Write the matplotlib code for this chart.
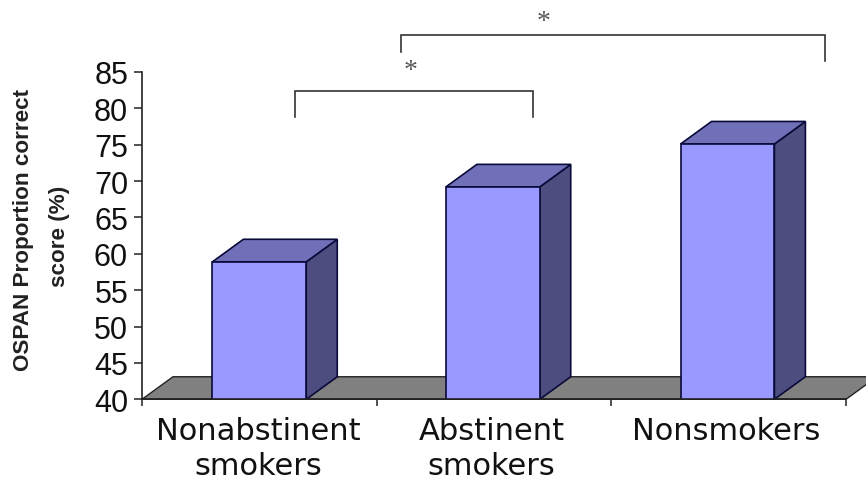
import matplotlib
matplotlib.use("Agg")
import matplotlib.pyplot as plt
from matplotlib.patches import Polygon
from matplotlib.ticker import FixedLocator, NullFormatter

categories = ["Nonabstinent\nsmokers", "Abstinent\nsmokers", "Nonsmokers"]
scores = [58.9, 69.2, 75.1]
y_ticks = [40, 45, 50, 55, 60, 65, 70, 75, 80, 85]
x_edges = [0, 1, 2, 3]
centers = [0.5, 1.495, 2.495]

# significance brackets: x start, x end, top, left foot, right foot
brackets = [
    (0.654, 1.667, 82.4, 78.8, 78.8),
    (1.102, 2.911, 90.1, 87.7, 86.5),
]
star_labels = [(1.143, 85.2), (1.71, 91.9)]

BAR_WIDTH = 0.4
DX, DY = 0.132, 3.1
FRONT, SIDE, TOP, FLOOR = "#9999FF", "#4D4D80", "#7070B8", "#808080"
EDGE = "#0A0A3A"

W, H = 866, 481
fig = plt.figure(figsize=(W / 100, H / 100), dpi=100, facecolor="white")
ax = fig.add_axes([142 / W, (H - 400.3) / H, 704 / W, 327.3 / H])
ax.set_xlim(0, 3)
ax.set_ylim(40, 85)
ax.patch.set_visible(False)

# floor
ax.add_patch(Polygon([(0, 40), (3, 40), (3 + DX, 40 + DY), (DX, 40 + DY)],
                     closed=True, facecolor=FLOOR, edgecolor="#222222", lw=1.0,
                     clip_on=False, zorder=1))

for c, v in zip(centers, scores):
    l, r = c - BAR_WIDTH / 2, c + BAR_WIDTH / 2
    ax.add_patch(Polygon([(r, 40), (r + DX, 40 + DY), (r + DX, v + DY), (r, v)],
                         closed=True, facecolor=SIDE, edgecolor=EDGE, lw=1.2,
                         clip_on=False, zorder=2))
    ax.add_patch(Polygon([(l, v), (r, v), (r + DX, v + DY), (l + DX, v + DY)],
                         closed=True, facecolor=TOP, edgecolor=EDGE, lw=1.2,
                         clip_on=False, zorder=2))
ax.bar(centers, scores, width=BAR_WIDTH, color=FRONT, edgecolor=EDGE, lw=1.2, zorder=3)

for s in ("top", "right"):
    ax.spines[s].set_visible(False)
for s in ("left", "bottom"):
    ax.spines[s].set_linewidth(1.2)
    ax.spines[s].set_color("#222222")
    ax.spines[s].set_zorder(4)

ax.set_yticks(y_ticks)
ax.tick_params(axis="y", length=5.5, width=1.1, color="#222222", pad=4.5)
for t in ax.get_yticklabels():
    t.set_fontfamily("Liberation Sans")
    t.set_fontsize(22)
    t.set_color("#111111")

ax.set_xticks(centers)
ax.set_xticklabels([])
ax.tick_params(axis="x", which="major", length=0)
ax.xaxis.set_minor_locator(FixedLocator(x_edges))
ax.xaxis.set_minor_formatter(NullFormatter())
ax.tick_params(axis="x", which="minor", length=5, width=1.1, color="#222222")

for c, lab in zip(centers, categories):
    ax.annotate(lab, xy=(c, 40), xycoords="data", xytext=(-1, -12),
                textcoords="offset points", ha="center", va="top",
                fontfamily="DejaVu Sans", fontsize=22, color="#111111",
                linespacing=1.26, annotation_clip=False)

fig.text(24 / W, 1 - 230 / H, "OSPAN Proportion correct", rotation=90, ha="center", va="center",
         fontfamily="Liberation Sans", fontweight="bold", fontsize=16.2, color="#222222")
fig.text(60 / W, 1 - 236 / H, "score (%)", rotation=90, ha="center", va="center",
         fontfamily="Liberation Sans", fontweight="bold", fontsize=16.2, color="#222222")

for x0, x1, top, f0, f1 in brackets:
    ax.plot([x0, x0, x1, x1], [f0, top, top, f1], color="#333333", lw=1.2,
            clip_on=False, solid_joinstyle="miter", zorder=5)
for x, y in star_labels:
    ax.text(x, y, "*", ha="center", va="center", fontfamily="Liberation Serif",
            fontsize=20, color="#555555", clip_on=False)

fig.savefig("out.png", dpi=100)
